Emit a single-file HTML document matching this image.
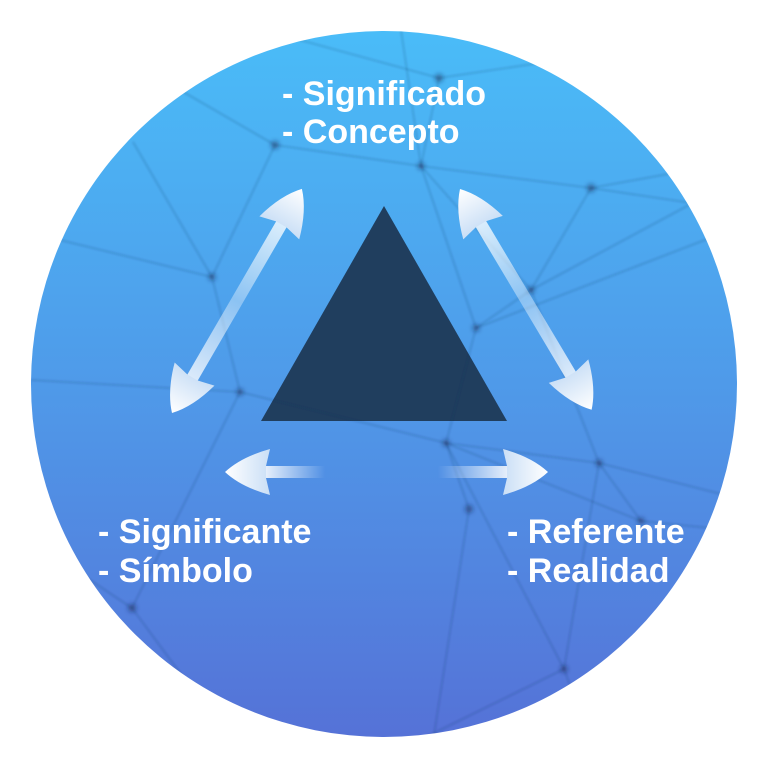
<!DOCTYPE html>
<html>
<head>
<meta charset="utf-8">
<style>
  html,body{margin:0;padding:0;background:#ffffff;}
  body{width:768px;height:768px;overflow:hidden;}
  svg{display:block;}
  .t{font-family:"Liberation Sans",Arial,sans-serif;font-weight:bold;font-size:34px;fill:#ffffff;}
</style>
</head>
<body>
<svg width="768" height="768" viewBox="0 0 768 768" xmlns="http://www.w3.org/2000/svg">
  <defs>
    <linearGradient id="bg" x1="0" y1="31" x2="0" y2="737" gradientUnits="userSpaceOnUse">
      <stop offset="0" stop-color="#4abcf8"/>
      <stop offset="0.5" stop-color="#4f9ae9"/>
      <stop offset="1" stop-color="#5572d7"/>
    </linearGradient>
    <clipPath id="circ"><circle cx="384" cy="384" r="353"/></clipPath>
    <filter id="lb" x="-10%" y="-10%" width="120%" height="120%"><feGaussianBlur stdDeviation="1.0"/></filter>
    <filter id="nb" x="-100%" y="-100%" width="300%" height="300%"><feGaussianBlur stdDeviation="2.5"/></filter>
    <linearGradient id="headG" x1="0" y1="0" x2="-45" y2="0" gradientUnits="userSpaceOnUse">
      <stop offset="0" stop-color="#ffffff"/>
      <stop offset="1" stop-color="#cadff6"/>
    </linearGradient>
    <linearGradient id="hShaft" x1="-41" y1="0" x2="-100" y2="0" gradientUnits="userSpaceOnUse">
      <stop offset="0" stop-color="#ffffff" stop-opacity="0.85"/>
      <stop offset="1" stop-color="#ffffff" stop-opacity="0"/>
    </linearGradient>
    <linearGradient id="hShaft2" x1="-41" y1="0" x2="-110" y2="0" gradientUnits="userSpaceOnUse">
      <stop offset="0" stop-color="#ffffff" stop-opacity="0.85"/>
      <stop offset="1" stop-color="#ffffff" stop-opacity="0"/>
    </linearGradient>
    <linearGradient id="dShaftL" x1="0" y1="0" x2="259" y2="0" gradientUnits="userSpaceOnUse">
      <stop offset="0.15" stop-color="#ffffff" stop-opacity="0.8"/>
      <stop offset="0.5" stop-color="#ffffff" stop-opacity="0.35"/>
      <stop offset="0.85" stop-color="#ffffff" stop-opacity="0.8"/>
    </linearGradient>
    <linearGradient id="dShaftR" x1="0" y1="0" x2="257" y2="0" gradientUnits="userSpaceOnUse">
      <stop offset="0.15" stop-color="#ffffff" stop-opacity="0.8"/>
      <stop offset="0.5" stop-color="#ffffff" stop-opacity="0.35"/>
      <stop offset="0.85" stop-color="#ffffff" stop-opacity="0.8"/>
    </linearGradient>
  </defs>

  <!-- background circle -->
  <circle cx="384" cy="384" r="353" fill="url(#bg)"/>

  <!-- triangle -->
  <polygon points="384,206 261,421 507,421" fill="#203e5e"/>

  <!-- network -->
  <g clip-path="url(#circ)">
    <g stroke="#1b2f57" stroke-width="1.3" stroke-opacity="0.24" fill="none" filter="url(#lb)">
      <line x1="401" y1="30" x2="421" y2="166"/>
      <line x1="275" y1="145" x2="421" y2="166"/>
      <line x1="421" y1="166" x2="591" y2="188"/>
      <line x1="591" y1="188" x2="705" y2="205"/>
      <line x1="591" y1="188" x2="668" y2="174"/>
      <line x1="421" y1="166" x2="531" y2="290"/>
      <line x1="421" y1="166" x2="476" y2="328"/>
      <line x1="591" y1="188" x2="531" y2="290"/>
      <line x1="531" y1="290" x2="689" y2="205"/>
      <line x1="476" y1="328" x2="710" y2="238"/>
      <line x1="531" y1="290" x2="476" y2="328"/>
      <line x1="439" y1="78" x2="421" y2="166"/>
      <line x1="439" y1="78" x2="300" y2="40"/>
      <line x1="439" y1="78" x2="560" y2="60"/>
      <line x1="275" y1="145" x2="212" y2="277"/>
      <line x1="212" y1="277" x2="240" y2="392"/>
      <line x1="212" y1="277" x2="60" y2="240"/>
      <line x1="212" y1="277" x2="133" y2="142"/>
      <line x1="240" y1="392" x2="31" y2="380"/>
      <line x1="240" y1="392" x2="446" y2="443"/>
      <line x1="240" y1="392" x2="132" y2="608"/>
      <line x1="132" y1="608" x2="60" y2="560"/>
      <line x1="132" y1="608" x2="200" y2="700"/>
      <line x1="446" y1="443" x2="599" y2="463"/>
      <line x1="446" y1="443" x2="564" y2="669"/>
      <line x1="446" y1="443" x2="641" y2="521"/>
      <line x1="599" y1="463" x2="725" y2="495"/>
      <line x1="599" y1="463" x2="641" y2="521"/>
      <line x1="599" y1="463" x2="564" y2="669"/>
      <line x1="531" y1="290" x2="599" y2="463"/>
      <line x1="641" y1="521" x2="730" y2="530"/>
      <line x1="564" y1="669" x2="590" y2="740"/>
      <line x1="564" y1="669" x2="420" y2="740"/>
      <line x1="476" y1="328" x2="446" y2="443"/>
      <line x1="469" y1="509" x2="434" y2="735"/>
      <line x1="469" y1="509" x2="446" y2="443"/>
      <line x1="275" y1="145" x2="180" y2="90"/>
    </g>
    <g fill="#14264a" fill-opacity="0.5" filter="url(#nb)">
      <circle cx="439" cy="78" r="4"/>
      <circle cx="421" cy="166" r="3.5"/>
      <circle cx="275" cy="145" r="4"/>
      <circle cx="591" cy="188" r="4"/>
      <circle cx="531" cy="290" r="3.5"/>
      <circle cx="476" cy="328" r="3.5"/>
      <circle cx="212" cy="277" r="3.5"/>
      <circle cx="240" cy="392" r="3.5"/>
      <circle cx="446" cy="443" r="3.5"/>
      <circle cx="599" cy="463" r="3.5"/>
      <circle cx="469" cy="509" r="4"/>
      <circle cx="641" cy="521" r="3.5"/>
      <circle cx="564" cy="669" r="3.5"/>
      <circle cx="132" cy="608" r="4"/>
    </g>
  </g>

  <!-- left diagonal double arrow -->
  <g transform="translate(172,413) rotate(-59.9)">
    <rect x="40" y="-6" width="179" height="12" fill="url(#dShaftL)"/>
    <path transform="translate(259,0)" d="M0,0 Q-16,-15 -45,-23 L-41,-6 L-41,6 L-45,23 Q-16,15 0,0 Z" fill="url(#headG)"/>
    <path transform="rotate(180)" d="M0,0 Q-16,-15 -45,-23 L-41,-6 L-41,6 L-45,23 Q-16,15 0,0 Z" fill="url(#headG)"/>
  </g>

  <!-- right diagonal double arrow -->
  <g transform="translate(460,189) rotate(59.2)">
    <rect x="40" y="-6" width="177" height="12" fill="url(#dShaftR)"/>
    <path transform="translate(257,0)" d="M0,0 Q-16,-15 -45,-23 L-41,-6 L-41,6 L-45,23 Q-16,15 0,0 Z" fill="url(#headG)"/>
    <path transform="rotate(180)" d="M0,0 Q-16,-15 -45,-23 L-41,-6 L-41,6 L-45,23 Q-16,15 0,0 Z" fill="url(#headG)"/>
  </g>

  <!-- left horizontal arrow -->
  <g transform="translate(225,472) rotate(180)">
    <rect x="-100" y="-6" width="60" height="12" fill="url(#hShaft)"/>
    <path d="M0,0 Q-16,-15 -45,-23 L-41,-6 L-41,6 L-45,23 Q-16,15 0,0 Z" fill="url(#headG)"/>
  </g>

  <!-- right horizontal arrow -->
  <g transform="translate(548,472)">
    <rect x="-110" y="-6" width="70" height="12" fill="url(#hShaft2)"/>
    <path d="M0,0 Q-16,-15 -45,-23 L-41,-6 L-41,6 L-45,23 Q-16,15 0,0 Z" fill="url(#headG)"/>
  </g>

  <!-- labels -->
  <text class="t" x="282" y="105">- Significado</text>
  <text class="t" x="282" y="143">- Concepto</text>

  <text class="t" x="98" y="543">- Significante</text>
  <text class="t" x="98" y="582">- Símbolo</text>

  <text class="t" x="507" y="543">- Referente</text>
  <text class="t" x="507" y="582">- Realidad</text>
</svg>
</body>
</html>
